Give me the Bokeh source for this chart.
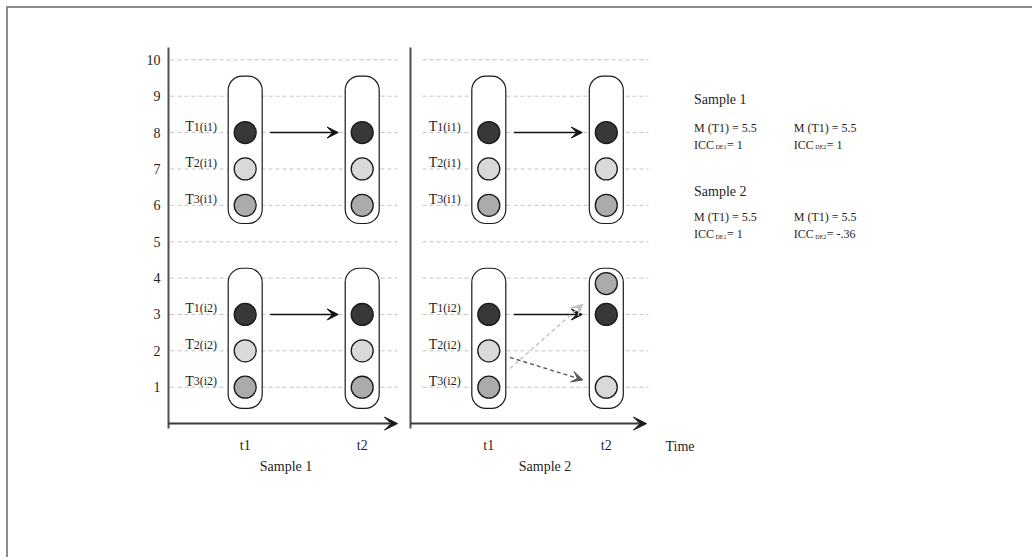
from bokeh.plotting import figure
from bokeh.models import Range1d, FixedTicker, Arrow, VeeHead
from bokeh.core.properties import value
from bokeh.embed import file_html
from bokeh.resources import INLINE

# ---------------- data ----------------
y_ticks = [1, 2, 3, 4, 5, 6, 7, 8, 9, 10]
time_points = ["t1", "t2"]
samples = ["Sample 1", "Sample 2"]
indicators = ["1", "2", "3"]
individuals = ["i1", "i2"]
indicator_colors = ["#383838", "#d9d9d9", "#ababab"]
axis_title = "Time"

# scores of the three indicators [T1, T2, T3]
s1_i1_t1 = [8, 7, 6]
s1_i1_t2 = [8, 7, 6]
s1_i2_t1 = [3, 2, 1]
s1_i2_t2 = [3, 2, 1]
s2_i1_t1 = [8, 7, 6]
s2_i1_t2 = [8, 7, 6]
s2_i2_t1 = [3, 2, 1]
s2_i2_t2 = [3, 1, 3.85]

stat_mean_s1 = ["5.5", "5.5"]
stat_icc_s1 = ["1", "1"]
stat_mean_s2 = ["5.5", "5.5"]
stat_icc_s2 = ["1", "-.36"]
icc_subs = ["DE1", "DE2"]

scores = {
    "Sample 1": {"i1": (s1_i1_t1, s1_i1_t2), "i2": (s1_i2_t1, s1_i2_t2)},
    "Sample 2": {"i1": (s2_i1_t1, s2_i1_t2), "i2": (s2_i2_t1, s2_i2_t2)},
}
stats = {"Sample 1": (stat_mean_s1, stat_icc_s1), "Sample 2": (stat_mean_s2, stat_icc_s2)}

# ---------------- layout ----------------
W, H = 1026, 551
OX, OY = 8, 8          # page position of the canvas origin
FRAME_LEFT = 164
Y0 = 423.1
PPU = 36.38


def v(py):
    return (Y0 - py) / PPU


PX = 1.0 / PPU  # one screen pixel in y data units

panels = {
    "Sample 1": dict(axis_x=168, grid=(170, 397), t=(244.7, 361.7), arrow_end=397, name_x=285.5),
    "Sample 2": dict(axis_x=410, grid=(422, 648), t=(488.3, 605.8), arrow_end=646, name_x=544.5),
}
capsule_span = {"i1": (5.5, 9.55), "i2": (0.42, 4.27)}
CAP_W = 34

FONT = value("Liberation Serif")
TXT = "#1e1e1e"

p = figure(width=W, height=H, output_backend="svg", toolbar_location=None,
           x_range=Range1d(FRAME_LEFT, OX + W), y_range=Range1d(v(OY + H), v(OY)),
           x_axis_location=None, y_axis_location="left", title=None,
           min_border=0, min_border_left=FRAME_LEFT - OX)
p.styles = {"border-top": "2px solid #8a8a8a", "border-left": "2px solid #8a8a8a",
            "margin-left": "6px", "margin-top": "6px"}
p.outline_line_color = None
p.xgrid.visible = False
p.ygrid.visible = False
p.background_fill_color = "white"
p.border_fill_color = "white"

yax = p.yaxis[0]
yax.ticker = FixedTicker(ticks=y_ticks)
yax.axis_line_color = None
yax.major_tick_line_color = None
yax.minor_tick_line_color = None
yax.major_tick_out = 0
yax.major_tick_in = 0
yax.major_label_standoff = 4
yax.major_label_text_font = "Liberation Serif"
yax.major_label_text_font_size = "14px"
yax.major_label_text_color = TXT

for s in samples:
    pn = panels[s]
    # dashed grid lines
    p.segment(x0=[pn["grid"][0]] * len(y_ticks), x1=[pn["grid"][1]] * len(y_ticks),
              y0=y_ticks, y1=y_ticks, line_color="#c4c4c4", line_width=1, line_dash="4 3")
    # vertical axis line
    p.segment(x0=[pn["axis_x"]], x1=[pn["axis_x"]], y0=[v(428)], y1=[v(47)],
              line_color="#505050", line_width=2)
    # horizontal time axis (arrow)
    p.add_layout(Arrow(x_start=pn["axis_x"], y_start=0, x_end=pn["arrow_end"], y_end=0,
                       line_color="#3a3a3a", line_width=2,
                       end=VeeHead(size=13, fill_color="#1a1a1a", line_color="#1a1a1a")))
    # time tick labels
    p.text(x=list(pn["t"]), y=[v(445)] * 2, text=time_points, text_font=FONT,
           text_font_size="14px", text_align="center", text_baseline="alphabetic",
           text_color=TXT)
    p.text(x=[pn["name_x"]], y=[v(466)], text=[s], text_font=FONT, text_font_size="14px",
           text_align="center", text_baseline="alphabetic", text_color=TXT)

    for ind in individuals:
        lo, hi = capsule_span[ind]
        # capsules
        p.quad(left=[tx - CAP_W / 2 for tx in pn["t"]], right=[tx + CAP_W / 2 for tx in pn["t"]],
               bottom=[lo, lo], top=[hi, hi], border_radius=14,
               fill_color="white", line_color="#1a1a1a", line_width=1.2)
        t1_vals, t2_vals = scores[s][ind]
        # circles
        p.scatter(x=[pn["t"][0]] * 3 + [pn["t"][1]] * 3, y=list(t1_vals) + list(t2_vals),
                  size=22, fill_color=indicator_colors * 2, line_color="#1a1a1a", line_width=1.3)
        # indicator labels at t1
        lab_x = pn["t"][0] - 51.5
        lab_y = [val + 6 * PX for val in t1_vals]
        p.text(x=[lab_x] * 3, y=lab_y, text=["T"] * 3, text_font=FONT, text_font_size="14px",
               text_align="right", text_baseline="alphabetic", text_color=TXT)
        p.text(x=[lab_x] * 3, y=lab_y, text=[f"{k}({ind})" for k in indicators], text_font=FONT,
               text_font_size="12px", text_align="left", text_baseline="alphabetic",
               text_color=TXT)
        # change arrows
        xa, xb = pn["t"]
        for k in range(3):
            y_a, y_b = t1_vals[k], t2_vals[k]
            if k == 0:
                p.add_layout(Arrow(x_start=xa + 25, y_start=y_a, x_end=xb - 24, y_end=y_b,
                                   line_color="#111111", line_width=1.5,
                                   end=VeeHead(size=11, fill_color="#111111", line_color="#111111")))
            elif y_a != y_b:
                col = "#5a5a5a" if k == 1 else "#c2c2c2"
                f0, f1 = 0.18, 0.8
                p.add_layout(Arrow(x_start=xa + f0 * (xb - xa), y_start=y_a + f0 * (y_b - y_a),
                                   x_end=xa + f1 * (xb - xa), y_end=y_a + f1 * (y_b - y_a),
                                   line_color=col, line_width=1.4, line_dash="4 3",
                                   end=VeeHead(size=11, fill_color=col, line_color=col)))

# time axis title
p.text(x=[665], y=[v(446)], text=[axis_title], text_font=FONT, text_font_size="14px",
       text_align="left", text_baseline="alphabetic", text_color=TXT)

# ---------------- right-hand statistics ----------------
stat_rows = {"Sample 1": (98.5, 127.3, 144.0), "Sample 2": (190.7, 216.7, 233.3)}
col_x = [693.5, 793.3]
for s in samples:
    ys, ym, yi = stat_rows[s]
    means, iccs = stats[s]
    p.text(x=[col_x[0]], y=[v(ys)], text=[s], text_font=FONT, text_font_size="14px",
           text_align="left", text_baseline="alphabetic", text_color=TXT)
    p.text(x=col_x, y=[v(ym)] * 2, text=[f"M (T1) = {m}" for m in means], text_font=FONT,
           text_font_size="12px", text_align="left", text_baseline="alphabetic", text_color=TXT)
    p.text(x=col_x, y=[v(yi)] * 2, text=["ICC"] * 2, text_font=FONT,
           text_font_size="12px", text_align="left", text_baseline="alphabetic", text_color=TXT)
    p.text(x=[cx + 21.5 for cx in col_x], y=[v(yi + 2.7)] * 2, text=icc_subs, text_font=FONT,
           text_font_size="6px", text_align="left", text_baseline="alphabetic", text_color=TXT)
    p.text(x=[cx + 33 for cx in col_x], y=[v(yi)] * 2, text=[f"= {c}" for c in iccs], text_font=FONT,
           text_font_size="12px", text_align="left", text_baseline="alphabetic", text_color=TXT)

open("out.html", "w").write(file_html(p, INLINE))
